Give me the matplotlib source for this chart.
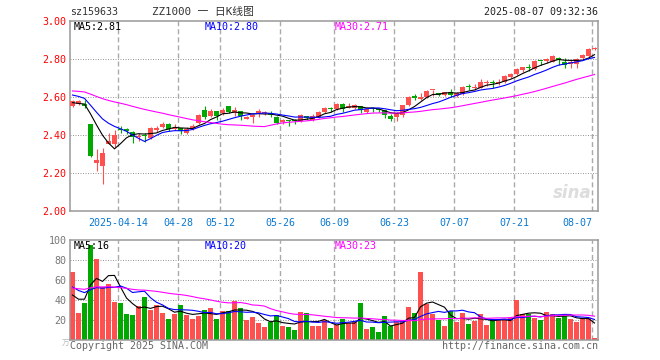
import matplotlib
matplotlib.use("Agg")
import matplotlib.pyplot as plt
import pandas as pd

plt.rcParams['font.family'] = ['DejaVu Sans Mono', 'Noto Sans CJK SC']
plt.rcParams['font.size'] = 7.2

# 日K数据 2025-04-01 .. 2025-08-07 (88 个交易日)
opens = [2.556, 2.565, 2.565, 2.461, 2.252, 2.238, 2.354, 2.352, 2.430, 2.435,
         2.417, 2.390, 2.398, 2.387, 2.428, 2.445, 2.461, 2.432, 2.437, 2.410,
         2.437, 2.466, 2.533, 2.502, 2.526, 2.516, 2.554, 2.519, 2.526, 2.488,
         2.498, 2.516, 2.516, 2.516, 2.496, 2.470, 2.480, 2.477, 2.477, 2.502,
         2.481, 2.498, 2.523, 2.543, 2.538, 2.565, 2.545, 2.542, 2.554, 2.524,
         2.540, 2.538, 2.531, 2.501, 2.498, 2.507, 2.559, 2.605, 2.591, 2.601,
         2.636, 2.622, 2.612, 2.626, 2.608, 2.617, 2.656, 2.650, 2.651, 2.673,
         2.679, 2.673, 2.679, 2.707, 2.721, 2.744, 2.761, 2.747, 2.793, 2.791,
         2.788, 2.807, 2.788, 2.774, 2.774, 2.805, 2.819, 2.854]
highs = [2.586, 2.585, 2.588, 2.461, 2.328, 2.331, 2.410, 2.428, 2.450, 2.440,
         2.420, 2.414, 2.410, 2.445, 2.449, 2.472, 2.463, 2.460, 2.440, 2.445,
         2.458, 2.510, 2.554, 2.537, 2.527, 2.542, 2.556, 2.551, 2.527, 2.503,
         2.512, 2.537, 2.530, 2.526, 2.500, 2.487, 2.482, 2.484, 2.510, 2.504,
         2.512, 2.528, 2.551, 2.549, 2.570, 2.572, 2.568, 2.565, 2.556, 2.542,
         2.550, 2.545, 2.533, 2.510, 2.521, 2.561, 2.609, 2.615, 2.623, 2.637,
         2.640, 2.624, 2.630, 2.645, 2.626, 2.658, 2.670, 2.668, 2.696, 2.689,
         2.689, 2.696, 2.717, 2.730, 2.752, 2.761, 2.775, 2.795, 2.793, 2.807,
         2.821, 2.814, 2.805, 2.796, 2.805, 2.826, 2.858, 2.865]
lows = [2.551, 2.560, 2.545, 2.287, 2.214, 2.142, 2.354, 2.340, 2.410, 2.405,
        2.361, 2.368, 2.366, 2.379, 2.419, 2.437, 2.424, 2.428, 2.405, 2.407,
        2.428, 2.458, 2.484, 2.495, 2.480, 2.509, 2.516, 2.502, 2.480, 2.484,
        2.466, 2.498, 2.509, 2.495, 2.459, 2.460, 2.451, 2.458, 2.470, 2.481,
        2.475, 2.493, 2.516, 2.524, 2.533, 2.524, 2.542, 2.536, 2.516, 2.516,
        2.524, 2.521, 2.489, 2.477, 2.475, 2.498, 2.556, 2.586, 2.586, 2.598,
        2.605, 2.605, 2.605, 2.600, 2.603, 2.612, 2.638, 2.638, 2.647, 2.661,
        2.647, 2.665, 2.673, 2.703, 2.717, 2.735, 2.740, 2.744, 2.770, 2.782,
        2.784, 2.770, 2.756, 2.752, 2.752, 2.800, 2.810, 2.849]
closes = [2.580, 2.578, 2.555, 2.291, 2.270, 2.309, 2.372, 2.402, 2.427, 2.424,
          2.393, 2.395, 2.394, 2.440, 2.440, 2.459, 2.431, 2.440, 2.424, 2.433,
          2.449, 2.507, 2.498, 2.526, 2.502, 2.533, 2.521, 2.533, 2.502, 2.498,
          2.507, 2.530, 2.523, 2.505, 2.467, 2.480, 2.474, 2.474, 2.505, 2.490,
          2.502, 2.523, 2.546, 2.540, 2.565, 2.538, 2.554, 2.559, 2.533, 2.537,
          2.536, 2.531, 2.507, 2.484, 2.516, 2.559, 2.603, 2.595, 2.601, 2.633,
          2.640, 2.612, 2.626, 2.612, 2.621, 2.652, 2.652, 2.656, 2.679, 2.679,
          2.676, 2.682, 2.712, 2.724, 2.749, 2.758, 2.752, 2.791, 2.789, 2.802,
          2.817, 2.798, 2.770, 2.784, 2.802, 2.823, 2.854, 2.859]
# 成交量(万手)
vols = [68, 27, 37, 95, 81, 53, 56, 38, 37, 26,
        25, 34, 43, 30, 35, 27, 21, 26, 35, 25,
        21, 24, 30, 32, 21, 29, 29, 39, 32, 20,
        23, 17, 13, 18, 25, 14, 13, 10, 28, 27,
        14, 14, 20, 12, 15, 21, 17, 19, 37, 11,
        13, 8, 24, 14, 18, 20, 33, 27, 68, 36,
        26, 20, 14, 29, 18, 27, 16, 19, 26, 15,
        20, 20, 20, 22, 40, 26, 26, 22, 20, 28,
        26, 22, 24, 21, 18, 22, 22, 2]

# 4月之前的估计值, 仅用于均线起点
pre_close = [2.64, 2.65, 2.63, 2.64, 2.66, 2.65, 2.64, 2.63, 2.65, 2.66,
             2.64, 2.63, 2.65, 2.64, 2.65, 2.66, 2.64, 2.63, 2.64, 2.65,
             2.65, 2.66, 2.65, 2.64, 2.66, 2.60, 2.57, 2.55, 2.56]
pre_vol = [50, 54, 48, 52, 56, 49, 51, 53, 47, 55,
           52, 50, 48, 53, 54, 51, 49, 52, 50, 56,
           62, 58, 66, 60, 59, 48, 37, 24, 48]

date_idx = [8, 18, 25, 35, 44, 54, 64, 74, 87]
date_labels = ['2025-04-14', '04-28', '05-12', '05-26', '06-09',
               '06-23', '07-07', '07-21', '08-07']

n = len(closes)
x = list(range(n))
RED, GREEN = '#FF5050', '#00A800'
colors = [RED if c >= o else GREEN for o, c in zip(opens, closes)]

c_all = pd.Series(pre_close + closes)
v_all = pd.Series(pre_vol + vols)
ma = {k: c_all.rolling(k).mean().tolist()[-n:] for k in (5, 10, 30)}
vma = {k: v_all.rolling(k).mean().tolist()[-n:] for k in (5, 10, 30)}
ma_colors = {5: 'black', 10: '#0000FF', 30: '#FF00FF'}

W, H = 660, 360
fig = plt.figure(figsize=(6.6, 3.6), dpi=100)
ax = fig.add_axes([70 / W, 1 - 211.3 / H, 528 / W, 190 / H])
axv = fig.add_axes([70 / W, 1 - 340 / H, 528 / W, 100 / H])

xl = (-0.417, 87.583)
date_pos = [d - 0.417 for d in date_idx]

for a in (ax, axv):
    a.set_xlim(*xl)
    for s in a.spines.values():
        s.set_color('#999999')
        s.set_linewidth(1.1)
    for p in date_pos:
        a.axvline(p, color='#AAAAAA', lw=1.0, dashes=(3.6, 2.2), zorder=0)

# K线
ax.set_ylim(2.0, 3.0)
for p in (2.2, 2.4, 2.6, 2.8):
    ax.axhline(p, color='#999999', lw=0.72, dashes=(1, 1.5), zorder=0)
ax.vlines(x, lows, highs, colors=colors, lw=0.8, zorder=2)
bodies = [max(abs(c - o), 0.006) for o, c in zip(opens, closes)]
ax.bar(x, bodies, bottom=[min(o, c) for o, c in zip(opens, closes)],
       width=0.83, color=colors, zorder=3)
for k in (5, 10, 30):
    ax.plot(x, ma[k], color=ma_colors[k], lw=0.8, zorder=4)

ax.set_yticks([2.0, 2.2, 2.4, 2.6, 2.8, 3.0])
ax.set_yticklabels(['%.2f' % v for v in [2.0, 2.2, 2.4, 2.6, 2.8, 3.0]])
ax.tick_params(axis='y', length=0, pad=2.5, labelcolor='#FF0000')
ax.set_xticks(date_pos)
ax.set_xticklabels(date_labels)
ax.tick_params(axis='x', length=0, pad=4.5, labelcolor='#0A78D0')
ax.get_xticklabels()[-1].set_horizontalalignment('right')

# 成交量
axv.set_ylim(0, 100)
for p in (20, 40, 60, 80):
    axv.axhline(p, color='#999999', lw=0.72, dashes=(1, 1.5), zorder=0)
axv.bar(x, vols, width=0.83, color=colors, zorder=2)
for k in (5, 10, 30):
    axv.plot(x, vma[k], color=ma_colors[k], lw=0.8, zorder=3)
axv.set_yticks([20, 40, 60, 80, 100])
axv.set_yticklabels(['20', '40', '60', '80', '100'])
axv.tick_params(axis='y', length=0, pad=2.5, labelcolor='#777777')
axv.set_xticks([])


def txt(px, py, s, **kw):
    fig.text(px / W, 1 - py / H, s, va='center', **kw)


txt(70, 12, 'sz159633', color='#333333')
txt(152, 12, 'ZZ1000 一 日K线图', color='#333333', fontsize=7.8)
txt(598, 12, '2025-08-07 09:32:36', color='#222222', ha='right')

txt(74, 27, 'MA5:%.2f' % 2.81, color='black')
txt(205, 27, 'MA10:%.2f' % 2.80, color='#0000FF')
txt(335, 27, 'MA30:%.2f' % 2.71, color='#FF00FF')
txt(74, 246, 'MA5:16', color='black')
txt(205, 246, 'MA10:20', color='#0000FF')
txt(335, 246, 'MA30:23', color='#FF00FF')

txt(70, 346, 'Copyright 2025 SINA.COM', color='#666666')
txt(598, 346, 'http://finance.sina.com.cn', color='#666666', ha='right')
txt(62, 343, '万', color='#BBBBBB', fontsize=5.5)
txt(572, 193, 'sina', color='#DDDDDD', fontsize=12, ha='center',
    style='italic', fontweight='bold', family='DejaVu Sans')

fig.savefig('out.png', dpi=100)
